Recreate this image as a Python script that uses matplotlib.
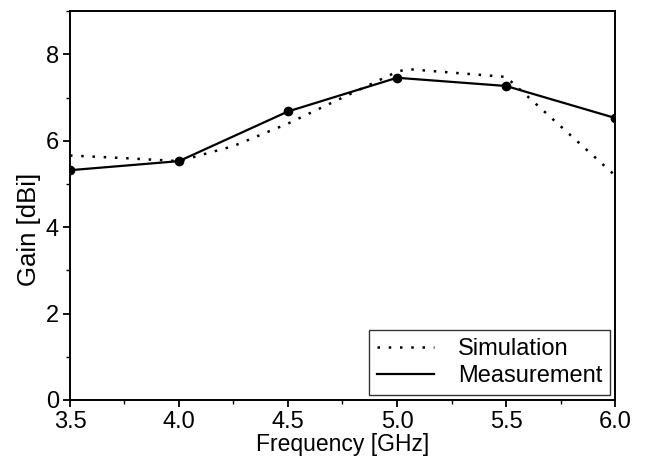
import matplotlib
matplotlib.use("Agg")
import matplotlib.pyplot as plt
from matplotlib.ticker import MultipleLocator

plt.rcParams["font.family"] = ["Liberation Sans", "DejaVu Sans"]

# simulated gain (dotted)
sim_freq = [3.5, 3.75, 4.0, 4.25, 4.5, 4.75, 5.0, 5.05, 5.25, 5.5, 6.0]
sim_gain = [5.66, 5.6, 5.53, 5.88, 6.4, 7.0, 7.6, 7.66, 7.58, 7.48, 5.2]

# measured gain (solid with dots)
meas_freq = [3.5, 4.0, 4.5, 5.0, 5.5, 6.0]
meas_gain = [5.32, 5.53, 6.68, 7.46, 7.27, 6.53]

fig = plt.figure(figsize=(6.45, 4.65), dpi=100)
ax = fig.add_axes([0.1085, 0.1398, 0.845, 0.836])

ax.plot(sim_freq, sim_gain, color="black", linestyle=(0, (1, 3.5)), linewidth=1.8,
        label="Simulation")
ax.plot(meas_freq, meas_gain, color="black", linewidth=1.6, marker="o",
        markersize=6, label="Measurement")

ax.set_xlim(3.5, 6.0)
ax.set_ylim(0, 9)
ax.xaxis.set_major_locator(MultipleLocator(0.5))
ax.xaxis.set_minor_locator(MultipleLocator(0.25))
ax.yaxis.set_major_locator(MultipleLocator(2))
ax.yaxis.set_minor_locator(MultipleLocator(1))
ax.xaxis.set_major_formatter(plt.FormatStrFormatter("%.1f"))
ax.tick_params(which="major", direction="out", length=5, width=1.3, labelsize=17, pad=3)
ax.tick_params(which="minor", direction="out", length=3, width=1.0)
for s in ax.spines.values():
    s.set_linewidth(1.4)

ax.set_xlabel("Frequency [GHz]", fontsize=16.5, labelpad=0)
ax.set_ylabel("Gain [dBi]", fontsize=18.5)
ax.yaxis.set_label_coords(-0.053, 0.44)

leg = ax.legend(loc="lower right", fontsize=17, frameon=True, fancybox=False,
                edgecolor="black", handlelength=2.4, handletextpad=1.0,
                borderpad=0.35, borderaxespad=0.2, labelspacing=0.2)
leg.get_frame().set_linewidth(1.0)
leg.legend_handles[1].set_marker("")

fig.savefig("out.png", dpi=100)
